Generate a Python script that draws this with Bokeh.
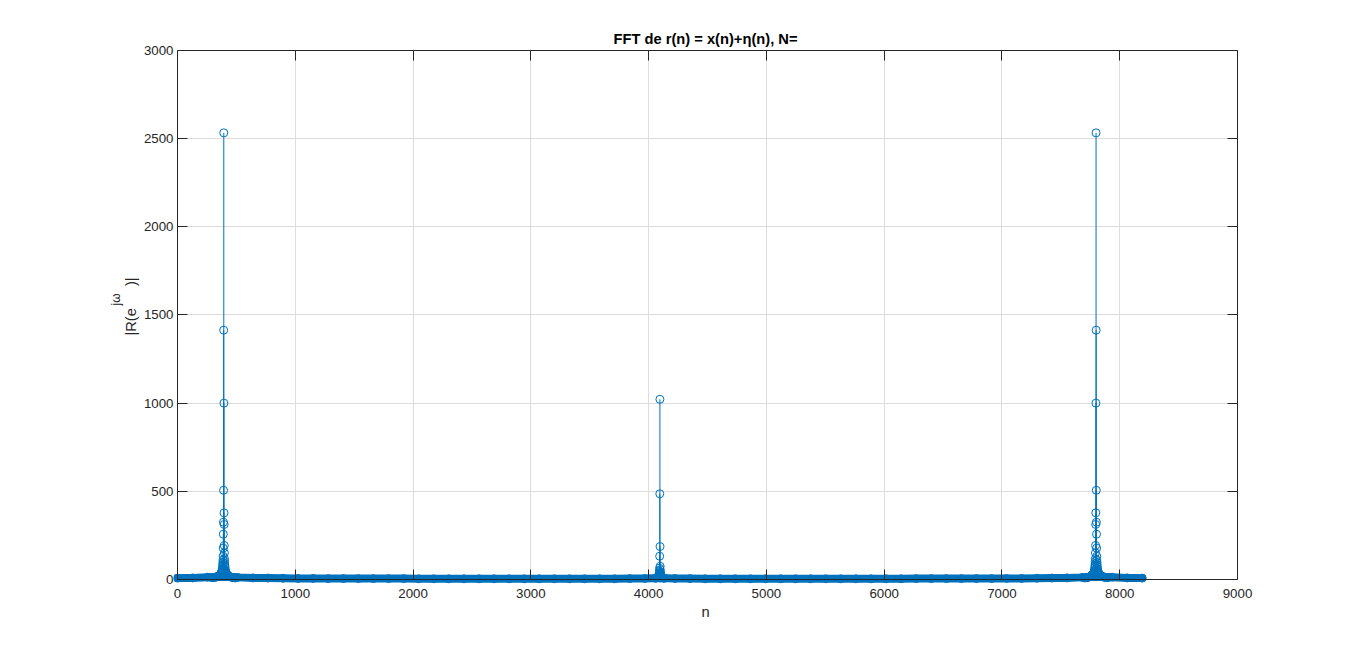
import numpy as np
from bokeh.plotting import figure
from bokeh.models import Range1d, LinearAxis, FixedTicker
from bokeh.embed import file_html
from bokeh.resources import INLINE

# ---------------- data ----------------
N = 8192
title_text = "FFT de r(n) = x(n)+\u03b7(n), N="
x_label = "n"
y_label_main = "|R(e\u2003\u2002)|"
y_label_sup = "j\u03c9"
x_ticks = [0, 1000, 2000, 3000, 4000, 5000, 6000, 7000, 8000, 9000]
y_ticks = [0, 500, 1000, 1500, 2000, 2500, 3000]

# side peak (bin 393, mirrored at N-393)
side_peak_bin = 393
side_offsets = [0, -1, 1, -2, 2, -3, 3, -4, 4, -5, 5, -6, 6, -7, 7, -8, 8, -9, 9,
                -10, 10, -12, 12, -14, 14, -16, 16, -18, 18, -20, 20, -24, 24,
                -28, 28, -32, 32, -36, 36, -40, 40, -48, 48, -56, 56, -64, 64,
                -72, 72, -80, 80, -90, 90, -100, 100]
side_values = [2533, 1414, 1000, 506, 378, 325, 312, 257, 193, 178, 151, 132, 118,
               110, 102, 96, 88, 84, 78, 74, 70, 62, 58, 54, 50, 47, 44, 42, 40,
               38, 36, 33, 31, 29, 27, 26, 24, 23, 22, 21, 20, 18, 17, 16, 15,
               14, 13, 13, 12, 12, 11, 11, 10, 10, 9]

# middle peak (bin 4096)
mid_peak_bin = 4096
mid_offsets = [0, -1, 1, -2, 2, -3, 3, -4, 4, -5, 5, -6, 6, -8, 8, -10, 10,
               -13, 13, -16, 16, -20, 20, -25, 25, -30, 30, -40, 40]
mid_values = [1022, 486, 187, 132, 75, 64, 55, 48, 42, 38, 35, 32, 30, 26, 24,
              21, 19, 17, 15, 14, 13, 12, 11, 10, 9, 9, 8, 7, 7]

# noise floor, read every 128 bins
floor_bins = list(range(0, N, 128)) + [N - 1]
floor_values = [8, 9, 13, 16, 12, 9, 8, 7, 6, 6, 5, 5, 5, 5, 5, 5,
                4, 4, 4, 4, 4, 4, 4, 4, 4, 4, 4, 4, 4, 4, 5, 6,
                9, 6, 5, 4, 4, 4, 4, 4, 4, 4, 4, 4, 4, 4, 4, 4,
                4, 5, 5, 5, 5, 5, 5, 6, 6, 7, 8, 9, 12, 16, 13, 9, 8]

# ---------------- assemble ----------------
n_all = (list(floor_bins)
         + [side_peak_bin + k for k in side_offsets]
         + [N - (side_peak_bin + k) for k in side_offsets]
         + [mid_peak_bin + k for k in mid_offsets])
v_all = (list(floor_values) + list(side_values) + list(side_values) + list(mid_values))

BLUE = "#0072BD"
AXC = "#262626"
FONT = "Liberation Sans"

p = figure(width=1350, height=635,
           x_range=Range1d(-34, 9000), y_range=Range1d(-28.4, 3000),
           output_backend="svg", toolbar_location=None,
           min_border_left=173, min_border_right=113,
           min_border_top=50, min_border_bottom=51)
p.background_fill_color = "white"
p.border_fill_color = "white"
p.outline_line_color = None

# grid
p.xgrid.ticker = FixedTicker(ticks=x_ticks)
p.ygrid.ticker = FixedTicker(ticks=y_ticks)
for g in list(p.xgrid) + list(p.ygrid):
    g.grid_line_color = "#dcdcdc"
    g.grid_line_width = 1
for g in p.xgrid:
    if "cross_bounds" in g.properties():
        g.cross_bounds = (0, 3000)
for g in p.ygrid:
    if "cross_bounds" in g.properties():
        g.cross_bounds = (0, 9000)

# stems, floor band, markers
p.segment(x0=n_all, y0=[0] * len(n_all), x1=n_all, y1=v_all,
          line_color=BLUE, line_width=1)
p.line(floor_bins, floor_values, line_color=BLUE, line_width=8, line_cap="round")
p.scatter(n_all, v_all, marker="circle", size=8, fill_color=None,
          line_color=BLUE, line_width=1)


def box_axis(ax, ticks, bounds):
    """axis line + inward ticks, no labels"""
    ax.ticker = FixedTicker(ticks=ticks)
    ax.bounds = bounds
    ax.axis_line_color = AXC
    ax.axis_line_width = 1
    ax.major_tick_line_color = AXC
    ax.major_tick_in = 10
    ax.major_tick_out = 0
    ax.minor_tick_line_color = None
    ax.major_label_standoff = 0
    ax.major_label_text_font_size = "1px"
    ax.major_label_overrides = {t: "" for t in ticks}


def label_axis(ax, ticks, standoff):
    """tick labels only"""
    ax.ticker = FixedTicker(ticks=ticks)
    ax.axis_line_color = None
    ax.major_tick_line_color = None
    ax.minor_tick_line_color = None
    ax.major_tick_in = 0
    ax.major_tick_out = 0
    ax.major_label_standoff = standoff
    ax.major_label_text_font = FONT
    ax.major_label_text_font_size = "13.3px"
    ax.major_label_text_color = AXC


# box lines / ticks at the data origin
xa = p.xaxis[0]
box_axis(xa, x_ticks, (0, 9000))
xa.fixed_location = 0
ya = p.yaxis[0]
box_axis(ya, y_ticks, (0, 3000))
ya.fixed_location = 0

top = LinearAxis()
box_axis(top, x_ticks, (0, 9000))
p.add_layout(top, "above")
right = LinearAxis()
box_axis(right, y_ticks, (0, 3000))
p.add_layout(right, "right")

# labelled axes in the side panels
xl = LinearAxis()
label_axis(xl, x_ticks, 4)
xl.axis_label = x_label
xl.axis_label_text_font = FONT
xl.axis_label_text_font_size = "14.7px"
xl.axis_label_text_font_style = "normal"
xl.axis_label_text_color = AXC
xl.axis_label_standoff = 3
p.add_layout(xl, "below")

# y label |R(e^{jw})| : main text on the labelled axis, raised superscript
# on an outer label-only axis (leading em spaces shift text along the axis)
yl = LinearAxis()
label_axis(yl, y_ticks, 0)
yl.axis_label = "\u2003\u2002" + y_label_main
yl.axis_label_text_font = FONT
yl.axis_label_text_font_size = "14.7px"
yl.axis_label_text_font_style = "normal"
yl.axis_label_text_color = AXC
yl.axis_label_standoff = 2
p.add_layout(yl, "left")

ys = LinearAxis()
box_axis(ys, y_ticks, (0, 3000))
ys.axis_line_color = None
ys.major_tick_line_color = None
ys.major_tick_in = 0
ys.axis_label = "\u2003\u2003\u2003" + y_label_sup
ys.axis_label_text_font = FONT
ys.axis_label_text_font_size = "12px"
ys.axis_label_text_font_style = "normal"
ys.axis_label_text_color = AXC
ys.axis_label_standoff = -3
p.add_layout(ys, "left")

# title
p.title.text = title_text
p.title.align = "center"
p.title.text_font = FONT
p.title.text_font_size = "14.7px"
p.title.text_font_style = "bold"
p.title.text_color = "#000000"
p.title.offset = 3
p.title.standoff = 8

open("out.html", "w").write(file_html(p, INLINE))
